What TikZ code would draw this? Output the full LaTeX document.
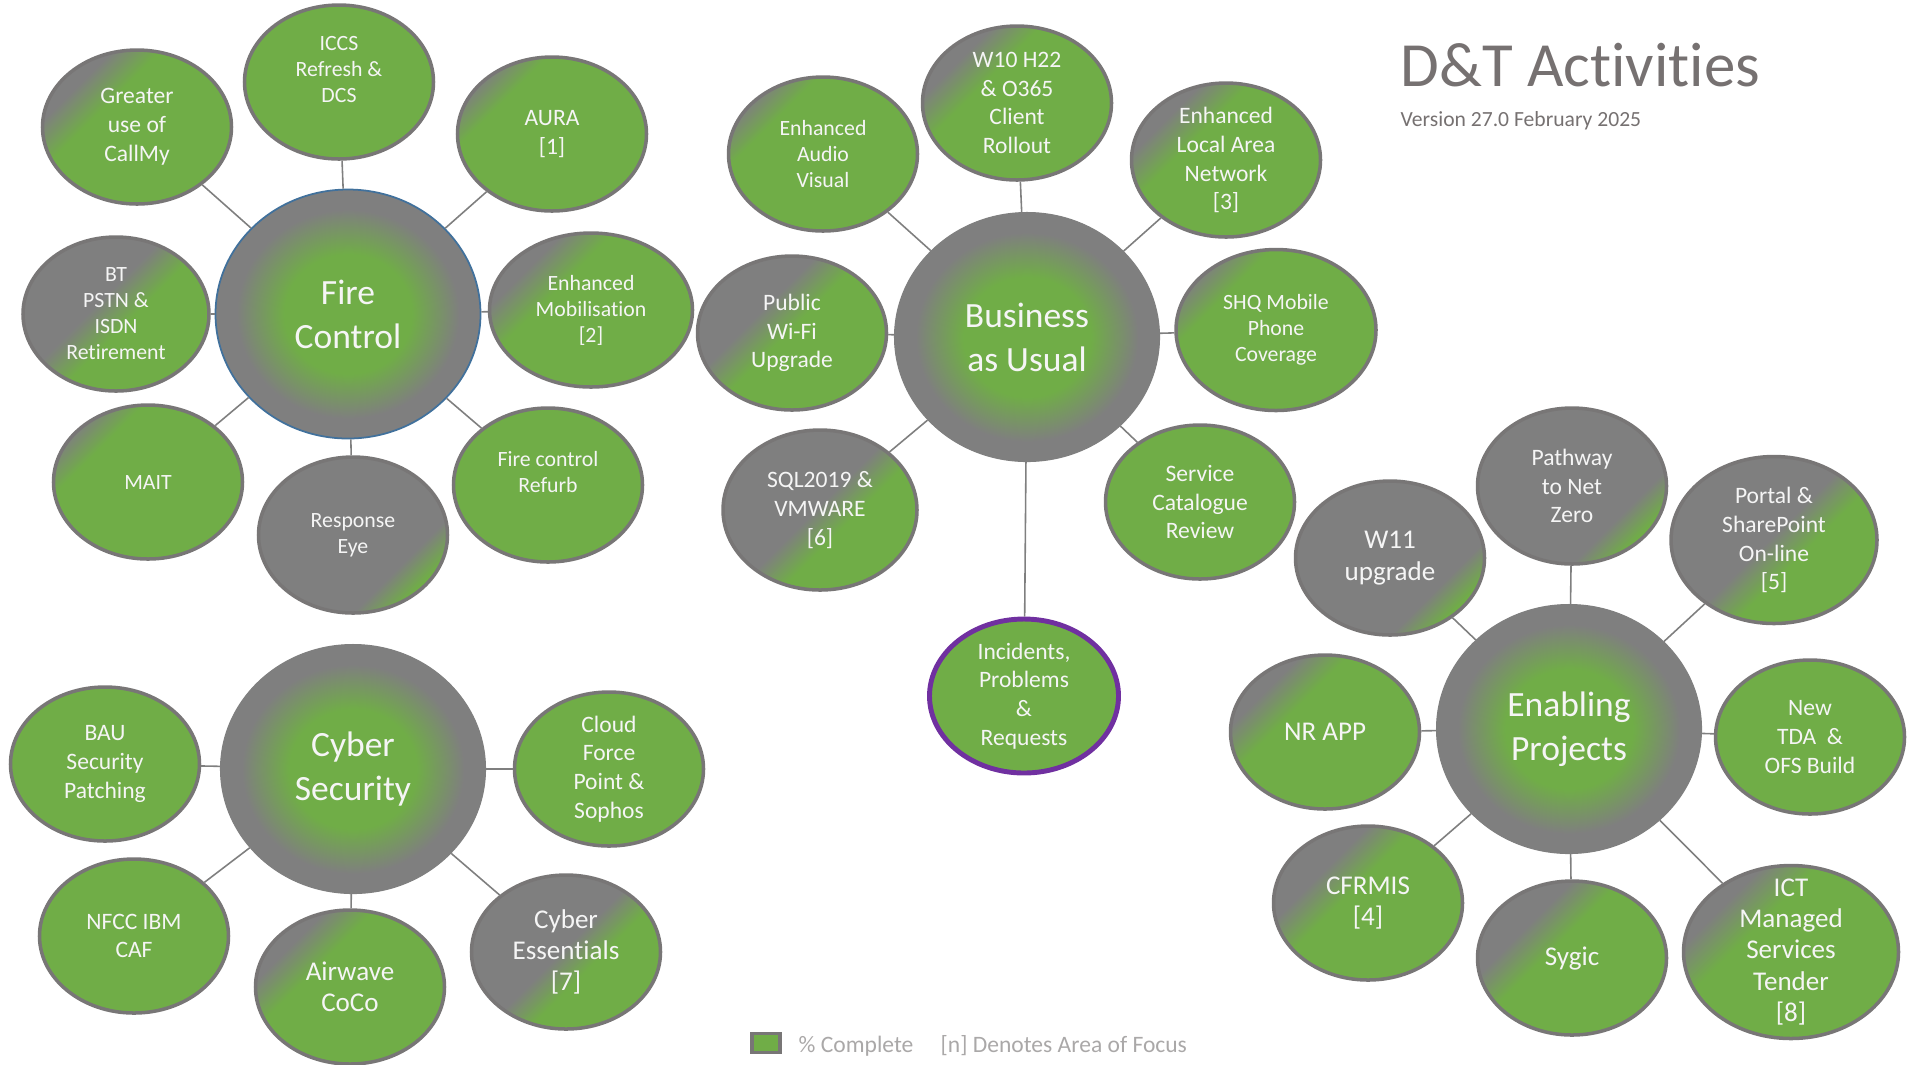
\documentclass[tikz,border=0pt]{standalone}
\usepackage{fontspec}
\setmainfont{Carlito}[Ligatures=NoCommon]
\usetikzlibrary{shapes.geometric}

\definecolor{bubblegreen}{RGB}{112,173,71}
\definecolor{bubblegray}{RGB}{127,127,127}
\definecolor{bubbleline}{RGB}{120,118,118}
\definecolor{firelineblue}{RGB}{65,113,156}
\definecolor{focuspurple}{RGB}{112,48,160}
\definecolor{titlegray}{RGB}{118,113,113}
\definecolor{keygray}{RGB}{170,168,168}
\definecolor{bubbletext}{RGB}{245,245,245}

% gray to green: the gray ends at #2 and the green begins at #3
\newcommand{\declaredone}[3]{%
  \pgfdeclarehorizontalshading{done#1}{100bp}{color(0bp)=(bubblegray); color(#2bp)=(bubblegray); color(#3bp)=(bubblegreen); color(100bp)=(bubblegreen)}}
\declaredone{90}{24}{33}
\declaredone{80}{29}{39}
\declaredone{70}{34}{44}
\declaredone{60}{39}{49}
\declaredone{50}{44}{54}
\declaredone{40}{49}{58}
\declaredone{15}{66}{74}
\pgfdeclareradialshading{hubglow}{\pgfpoint{0bp}{0bp}}{color(0bp)=(bubblegreen); color(12bp)=(bubblegreen); color(21bp)=(bubblegray); color(50bp)=(bubblegray)}

\begin{document}
\begin{tikzpicture}[
  hub/.style={ellipse, inner sep=0pt, minimum width=2.65cm, minimum height=2.49cm,
    draw=bubblegray, line width=0.3pt, shade, shading=hubglow, text=bubbletext,
    align=center, font=\fontsize{10.1}{12.5}\selectfont},
  bubble/.style={ellipse, inner sep=-6pt, minimum width=1.89cm, minimum height=1.54cm,
    draw=bubbleline, line width=1pt, fill=bubblegreen, text=bubbletext,
    align=center, font=\fontsize{6.2}{7.4}\selectfont},
  done/.style={shade, shading=done#1, shading angle=-45},
  midtext/.style={font=\fontsize{6.7}{8.2}\selectfont},
  bigtext/.style={font=\fontsize{7.7}{8.9}\selectfont},
  link/.style={draw=bubblegray, line width=0.45pt},
  note/.style={anchor=base west, inner sep=0pt}]
\useasboundingbox (0,0) rectangle (19.14,-10.64);

\node[hub, draw=firelineblue, line width=0.5pt] (fire) at (3.48,-3.14) {Fire\\Control};
\node[bubble, done=80, midtext] (callmy) at (1.37,-1.27) {Greater\\use of\\CallMy};
\node[bubble] (iccs) at (3.39,-0.82) {ICCS\\Refresh \&\\DCS\\~};
\node[bubble, done=90, midtext] (aura) at (5.52,-1.34) {AURA\\{[1]}};
\node[bubble, done=80, minimum width=2.03cm] (mobil) at (5.91,-3.10) {Enhanced\\Mobilisation\\{[2]}};
\node[bubble, done=50, minimum width=1.86cm] (pstn) at (1.16,-3.14) {BT\\PSTN \&\\ISDN\\Retirement};
\node[bubble, done=90] (mait) at (1.48,-4.82) {MAIT};
\node[bubble, done=15, minimum height=1.56cm] (reye) at (3.53,-5.35) {Response\\Eye};
\node[bubble] (refurb) at (5.48,-4.85) {Fire control\\Refurb\\~};

\node[hub] (bau) at (10.27,-3.37) {Business\\as Usual};
\node[bubble, done=80, midtext] (w10) at (10.17,-1.03) {W10 H22\\\& O365\\Client\\Rollout};
\node[bubble, done=90] (audio) at (8.23,-1.54) {Enhanced\\Audio\\Visual};
\node[bubble, done=80, midtext] (lan) at (12.26,-1.60) {Enhanced\\Local Area\\Network\\{[3]}};
\node[bubble, done=60, midtext] (wifi) at (7.92,-3.33) {Public\\Wi-Fi\\Upgrade};
\node[bubble, done=90, minimum width=2.0cm, minimum height=1.61cm] (shq) at (12.76,-3.30) {SHQ Mobile\\Phone\\Coverage};
\node[bubble, done=40, midtext, minimum width=1.94cm, minimum height=1.6cm] (sql) at (8.20,-5.10) {SQL2019 \&\\VMWARE\\{[6]}};
\node[bubble, midtext] (catalogue) at (12.00,-5.02) {Service\\Catalogue\\Review};
\node[bubble, midtext, draw=focuspurple, line width=1.4pt] (incidents) at (10.24,-6.96) {Incidents,\\Problems\\\&\\Requests};

\node[hub] (enabling) at (15.69,-7.29) {Enabling\\Projects};
\node[bubble, done=15, midtext, minimum height=1.56cm] (netzero) at (15.72,-4.86) {Pathway\\to Net\\Zero};
\node[bubble, done=15, bigtext] (w11) at (13.90,-5.58) {W11\\upgrade};
\node[bubble, done=40, midtext, minimum width=2.06cm, minimum height=1.67cm] (portal) at (17.74,-5.40) {Portal \&\\SharePoint\\On-line\\{[5]}};
\node[bubble, done=80, bigtext] (nrapp) at (13.25,-7.32) {NR APP};
\node[bubble, midtext] (tda) at (18.10,-7.37) {New\\TDA \ \&\\OFS Build};
\node[bubble, done=70, bigtext] (cfrmis) at (13.68,-9.03) {CFRMIS\\{[4]}};
\node[bubble, done=70, bigtext] (sygic) at (15.72,-9.58) {Sygic};
\node[bubble, done=80, bigtext, minimum width=2.15cm, minimum height=1.73cm] (ict) at (17.91,-9.52) {ICT\\Managed\\Services\\Tender\\{[8]}};

\node[hub] (cyber) at (3.53,-7.69) {Cyber\\Security};
\node[bubble, midtext] (bausec) at (1.05,-7.64) {BAU\\Security\\Patching};
\node[bubble, midtext] (cloud) at (6.09,-7.69) {Cloud\\Force\\Point \&\\Sophos};
\node[bubble, midtext] (nfcc) at (1.34,-9.36) {NFCC IBM\\CAF};
\node[bubble, done=80, bigtext] (airwave) at (3.50,-9.87) {Airwave\\CoCo};
\node[bubble, done=40, bigtext] (essentials) at (5.66,-9.52) {Cyber\\Essentials\\{[7]}};

\draw[link] (fire) -- (callmy);
\draw[link] (fire) -- (iccs);
\draw[link] (fire) -- (aura);
\draw[link] (fire) -- (mobil);
\draw[link] (fire) -- (pstn);
\draw[link] (fire) -- (mait);
\draw[link] (fire) -- (reye);
\draw[link] (fire) -- (refurb);

\draw[link] (bau) -- (w10);
\draw[link] (bau) -- (audio);
\draw[link] (bau) -- (lan);
\draw[link] (bau) -- (wifi);
\draw[link] (bau) -- (shq);
\draw[link] (bau) -- (sql);
\draw[link] (bau) -- (catalogue);
\draw[link] (bau) -- (incidents);

\draw[link] (enabling) -- (netzero);
\draw[link] (enabling) -- (w11);
\draw[link] (enabling) -- (portal);
\draw[link] (enabling) -- (nrapp);
\draw[link] (enabling) -- (tda);
\draw[link] (enabling) -- (cfrmis);
\draw[link] (enabling) -- (sygic);
\draw[link] (enabling) -- (ict);

\draw[link] (cyber) -- (bausec);
\draw[link] (cyber) -- (cloud);
\draw[link] (cyber) -- (nfcc);
\draw[link] (cyber) -- (airwave);
\draw[link] (cyber) -- (essentials);

\node[note, text=titlegray, font=\fontsize{17.9}{21}\selectfont] (title) at (14.0,-0.86) {D\&T Activities};
\node[note, text=titlegray, font=\fontsize{6.15}{7.5}\selectfont] (version) at (14.0,-1.26) {Version 27.0 February 2025};

\node[draw=bubbleline, line width=1pt, fill=bubblegreen, minimum width=0.28cm, minimum height=0.19cm, inner sep=0pt] (keybox) at (7.66,-10.43) {};
\node[note, text=keygray, font=\fontsize{6.7}{8}\selectfont] (keydone) at (7.98,-10.52) {\% Complete};
\node[note, text=keygray, font=\fontsize{6.7}{8}\selectfont] (keyfocus) at (9.40,-10.52) {[n] Denotes Area of Focus};
\end{tikzpicture}
\end{document}
